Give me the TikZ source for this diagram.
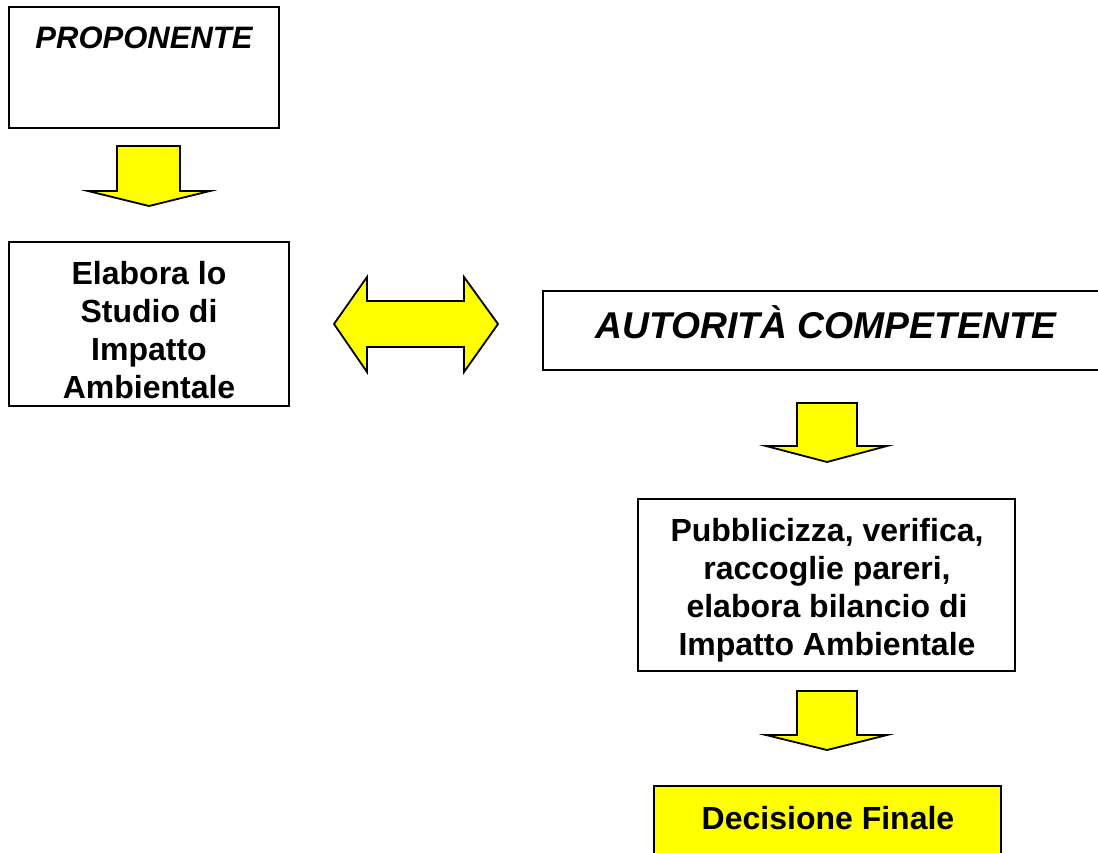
\documentclass[tikz,border=0pt]{standalone}
\usepackage{fontspec}
\setmainfont{Liberation Sans}
\definecolor{ayellow}{RGB}{255,255,0}
\tikzset{
  box/.style={draw=black, line width=1.8pt, fill=white, inner sep=0pt},
  yellowbox/.style={box, fill=ayellow},
  blockarrow/.style={draw=black, line width=1.8pt, fill=ayellow, line join=miter},
  bodytext/.style={font=\fontsize{32}{37.7}\selectfont\bfseries, align=center, inner sep=0pt},
  titletext/.style={font=\bfseries\itshape, inner sep=0pt},
}
\begin{document}
\begin{tikzpicture}[x=1pt,y=-1pt]
\path[use as bounding box] (0,0) rectangle (1098,852);
\clip (0,0) rectangle (1098,852);
% boxes
\node[box, minimum width=270pt, minimum height=121pt] (prop) at (144,67.5) {};
\node[titletext, font=\fontsize{31}{36}\selectfont\bfseries\itshape, anchor=base] (propt) at (144,48) {PROPONENTE};

\node[box, minimum width=280pt, minimum height=164pt] (study) at (149,324) {};
\node[bodytext, anchor=base] (studyt) at (149,398) {Elabora lo\\Studio di\\Impatto\\Ambientale};

\node[box, minimum width=566pt, minimum height=79pt] (auth) at (826,330.5) {};
\node[titletext, font=\fontsize{37.3}{40}\selectfont\bfseries\itshape, anchor=base] (autht) at (826,338) {AUTORITÀ COMPETENTE};

\node[box, minimum width=377pt, minimum height=172pt] (pub) at (826.5,585) {};
\node[bodytext, anchor=base] (pubt) at (827,655) {Pubblicizza, verifica,\\raccoglie pareri,\\elabora bilancio di\\Impatto Ambientale};

\node[yellowbox, minimum width=347pt, minimum height=80pt] (dec) at (827.5,826) {};
\node[bodytext, anchor=base] (dect) at (828,829) {Decisione Finale};

% block arrows
\draw[blockarrow] (117,146) -- (180,146) -- (180,191) -- (210,191) -- (149,206) -- (88,191) -- (117,191) -- cycle;
\draw[blockarrow] (334,324) -- (367,277) -- (367,301) -- (464,301) -- (464,277) -- (498,324) -- (464,372) -- (464,347) -- (367,347) -- (367,372) -- cycle;
\draw[blockarrow] (797,403) -- (857,403) -- (857,446) -- (887,446) -- (827,462) -- (766,446) -- (797,446) -- cycle;
\draw[blockarrow] (797,691) -- (857,691) -- (857,735) -- (887,735) -- (827,750) -- (766,735) -- (797,735) -- cycle;
\end{tikzpicture}
\end{document}
